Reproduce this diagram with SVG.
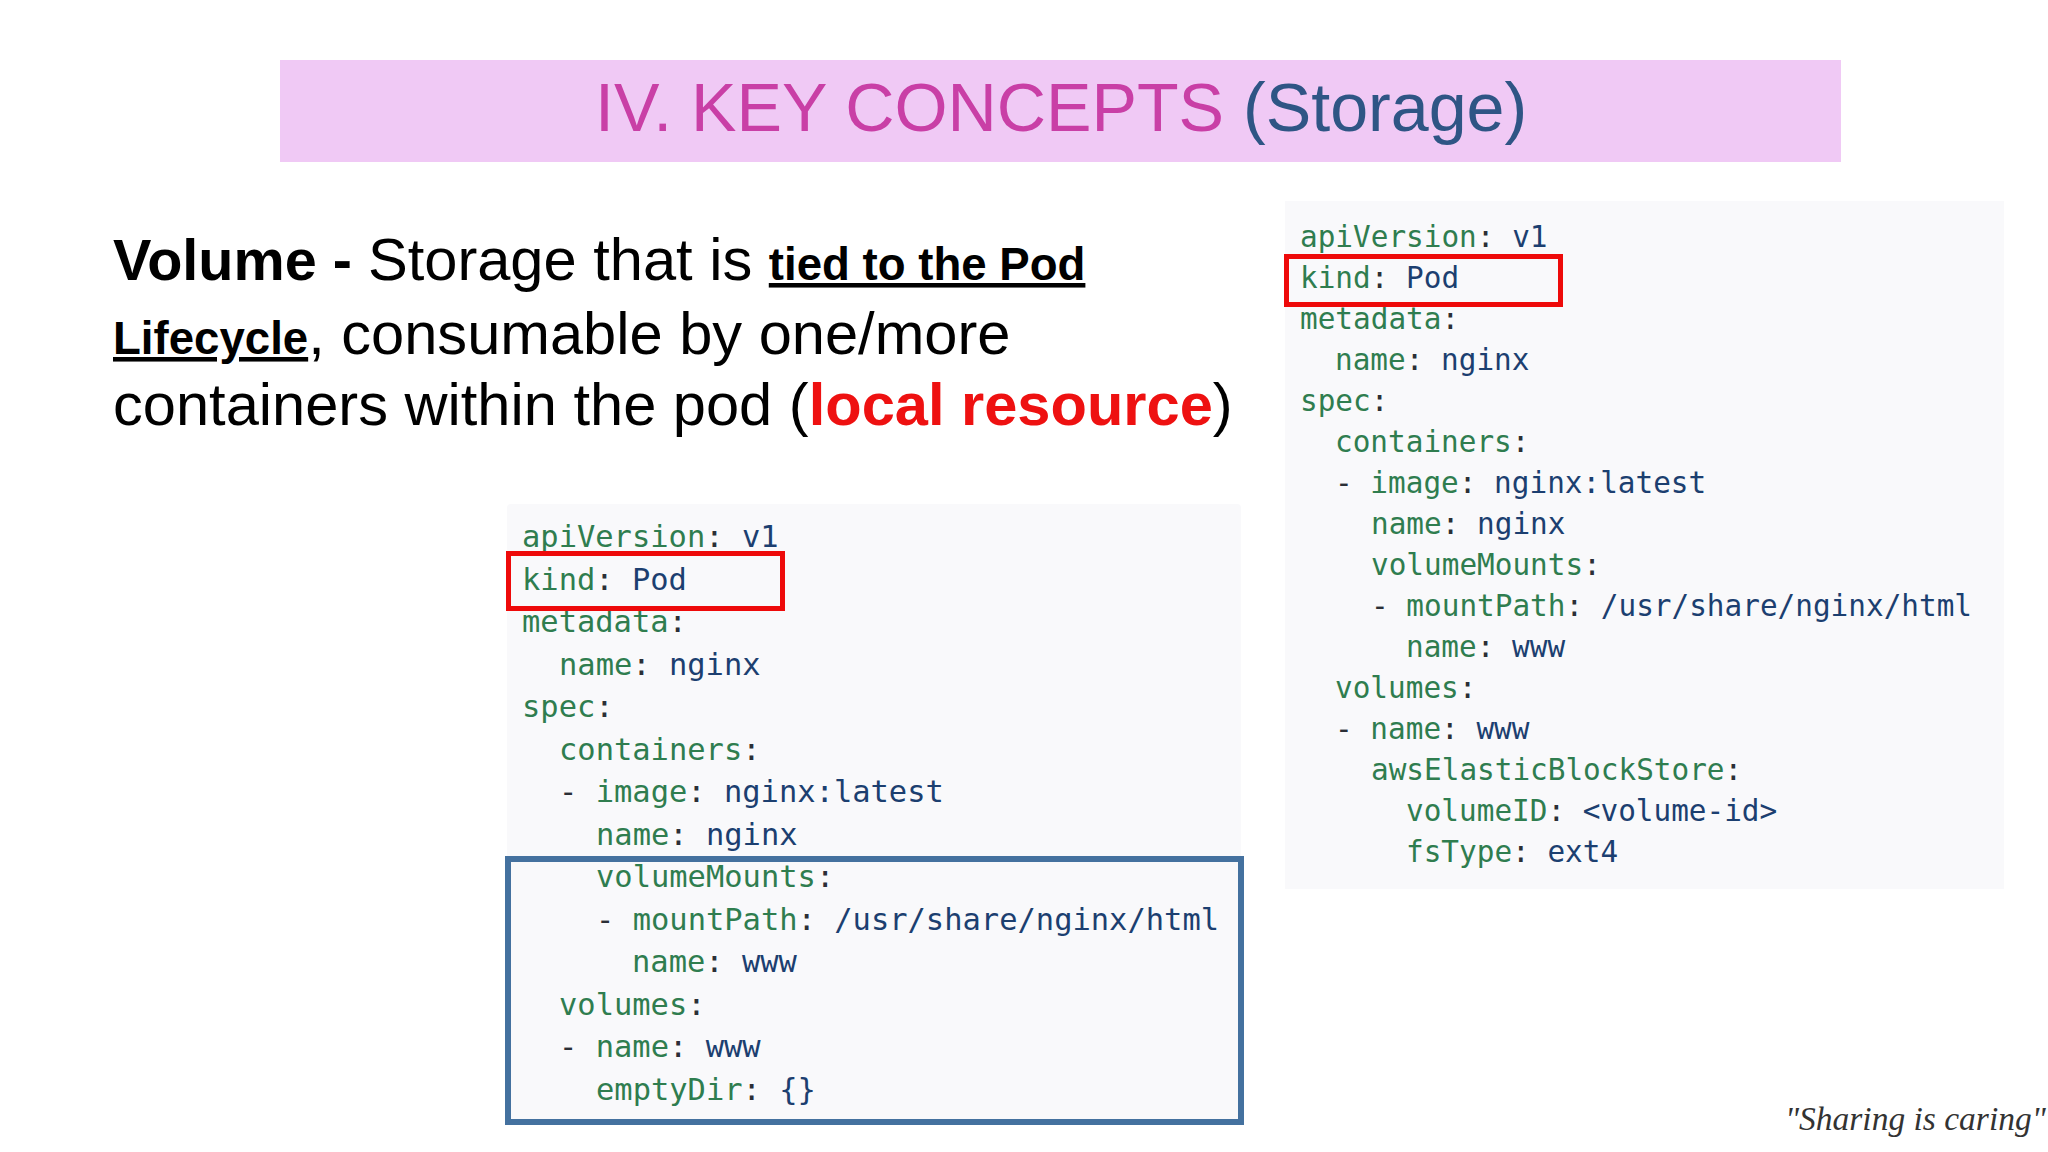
<svg xmlns="http://www.w3.org/2000/svg" width="2048" height="1152" viewBox="0 0 2048 1152">
<style>
.sans{font-family:"Liberation Sans",Arial,sans-serif}
.b{font-weight:700}
.code{font-family:"DejaVu Sans Mono",monospace;white-space:pre}
.l{font-size:30.45px}
.r{font-size:29.37px}
.k{fill:#2f7d4f}
.p{fill:#2b2f36}
.v{fill:#1c3f70}
.panel{fill:#f9f9fb}
.red{fill:none;stroke:#ee0a0a;stroke-width:5}
.blue{fill:none;stroke:#44719f;stroke-width:6}
</style>
<rect width="2048" height="1152" fill="#fff"/>
<g id="title">
<rect x="280" y="60" width="1561" height="102" fill="#f0c9f5"/>
<text class="sans" x="595" y="131" font-size="68.2"><tspan fill="#c93fa6">IV. KEY CONCEPTS </tspan><tspan fill="#2f5585">(Storage)</tspan></text>
</g>
<g id="description" class="sans" fill="#000">
<text x="113" y="280" font-size="59.6"><tspan class="b" font-size="57.6">Volume - </tspan>Storage that is <tspan class="b" font-size="45.6" text-decoration="underline">tied to the Pod</tspan></text>
<text x="113" y="354" font-size="59.6"><tspan class="b" font-size="45.6" text-decoration="underline">Lifecycle</tspan>, consumable by one/more</text>
<text x="113" y="425" font-size="59.6">containers within the pod (<tspan class="b" fill="#ee1111">local resource</tspan>)</text>
</g>
<g id="pod-yaml-left">
<rect class="panel" x="507" y="504" width="734" height="617" rx="4"/>
<g class="code l">
<text x="522" y="547"><tspan class="k">apiVersion</tspan><tspan class="p">: </tspan><tspan class="v">v1</tspan></text>
<text x="522" y="590"><tspan class="k">kind</tspan><tspan class="p">: </tspan><tspan class="v">Pod</tspan></text>
<text x="522" y="632"><tspan class="k">metadata</tspan><tspan class="p">:</tspan></text>
<text x="559" y="675"><tspan class="k">name</tspan><tspan class="p">: </tspan><tspan class="v">nginx</tspan></text>
<text x="522" y="717"><tspan class="k">spec</tspan><tspan class="p">:</tspan></text>
<text x="559" y="760"><tspan class="k">containers</tspan><tspan class="p">:</tspan></text>
<text x="559" y="802"><tspan class="p">- </tspan><tspan class="k">image</tspan><tspan class="p">: </tspan><tspan class="v">nginx:latest</tspan></text>
<text x="596" y="845"><tspan class="k">name</tspan><tspan class="p">: </tspan><tspan class="v">nginx</tspan></text>
<text x="596" y="887"><tspan class="k">volumeMounts</tspan><tspan class="p">:</tspan></text>
<text x="596" y="930"><tspan class="p">- </tspan><tspan class="k">mountPath</tspan><tspan class="p">: </tspan><tspan class="v">/usr/share/nginx/html</tspan></text>
<text x="632" y="972"><tspan class="k">name</tspan><tspan class="p">: </tspan><tspan class="v">www</tspan></text>
<text x="559" y="1015"><tspan class="k">volumes</tspan><tspan class="p">:</tspan></text>
<text x="559" y="1057"><tspan class="p">- </tspan><tspan class="k">name</tspan><tspan class="p">: </tspan><tspan class="v">www</tspan></text>
<text x="596" y="1100"><tspan class="k">emptyDir</tspan><tspan class="p">: </tspan><tspan class="v">{}</tspan></text>
</g>
<rect class="red" x="508.500" y="553.500" width="274" height="55"/>
<rect class="blue" x="508" y="859" width="733" height="263"/>
</g>
<g id="pod-yaml-right">
<rect class="panel" x="1285" y="201" width="719" height="688"/>
<g class="code r">
<text x="1300" y="247"><tspan class="k">apiVersion</tspan><tspan class="p">: </tspan><tspan class="v">v1</tspan></text>
<text x="1300" y="288"><tspan class="k">kind</tspan><tspan class="p">: </tspan><tspan class="v">Pod</tspan></text>
<text x="1300" y="329"><tspan class="k">metadata</tspan><tspan class="p">:</tspan></text>
<text x="1335" y="370"><tspan class="k">name</tspan><tspan class="p">: </tspan><tspan class="v">nginx</tspan></text>
<text x="1300" y="411"><tspan class="k">spec</tspan><tspan class="p">:</tspan></text>
<text x="1335" y="452"><tspan class="k">containers</tspan><tspan class="p">:</tspan></text>
<text x="1335" y="493"><tspan class="p">- </tspan><tspan class="k">image</tspan><tspan class="p">: </tspan><tspan class="v">nginx:latest</tspan></text>
<text x="1371" y="534"><tspan class="k">name</tspan><tspan class="p">: </tspan><tspan class="v">nginx</tspan></text>
<text x="1371" y="575"><tspan class="k">volumeMounts</tspan><tspan class="p">:</tspan></text>
<text x="1371" y="616"><tspan class="p">- </tspan><tspan class="k">mountPath</tspan><tspan class="p">: </tspan><tspan class="v">/usr/share/nginx/html</tspan></text>
<text x="1406" y="657"><tspan class="k">name</tspan><tspan class="p">: </tspan><tspan class="v">www</tspan></text>
<text x="1335" y="698"><tspan class="k">volumes</tspan><tspan class="p">:</tspan></text>
<text x="1335" y="739"><tspan class="p">- </tspan><tspan class="k">name</tspan><tspan class="p">: </tspan><tspan class="v">www</tspan></text>
<text x="1371" y="780"><tspan class="k">awsElasticBlockStore</tspan><tspan class="p">:</tspan></text>
<text x="1406" y="821"><tspan class="k">volumeID</tspan><tspan class="p">: </tspan><tspan class="v">&lt;volume-id&gt;</tspan></text>
<text x="1406" y="862"><tspan class="k">fsType</tspan><tspan class="p">: </tspan><tspan class="v">ext4</tspan></text>
</g>
<rect class="red" x="1286.500" y="256.500" width="274" height="48"/>
</g>
<g id="tagline">
<text x="1785" y="1130" font-family="'Liberation Serif',serif" font-style="italic" font-size="33.5" fill="#333">"Sharing is caring"</text>
</g>
</svg>
